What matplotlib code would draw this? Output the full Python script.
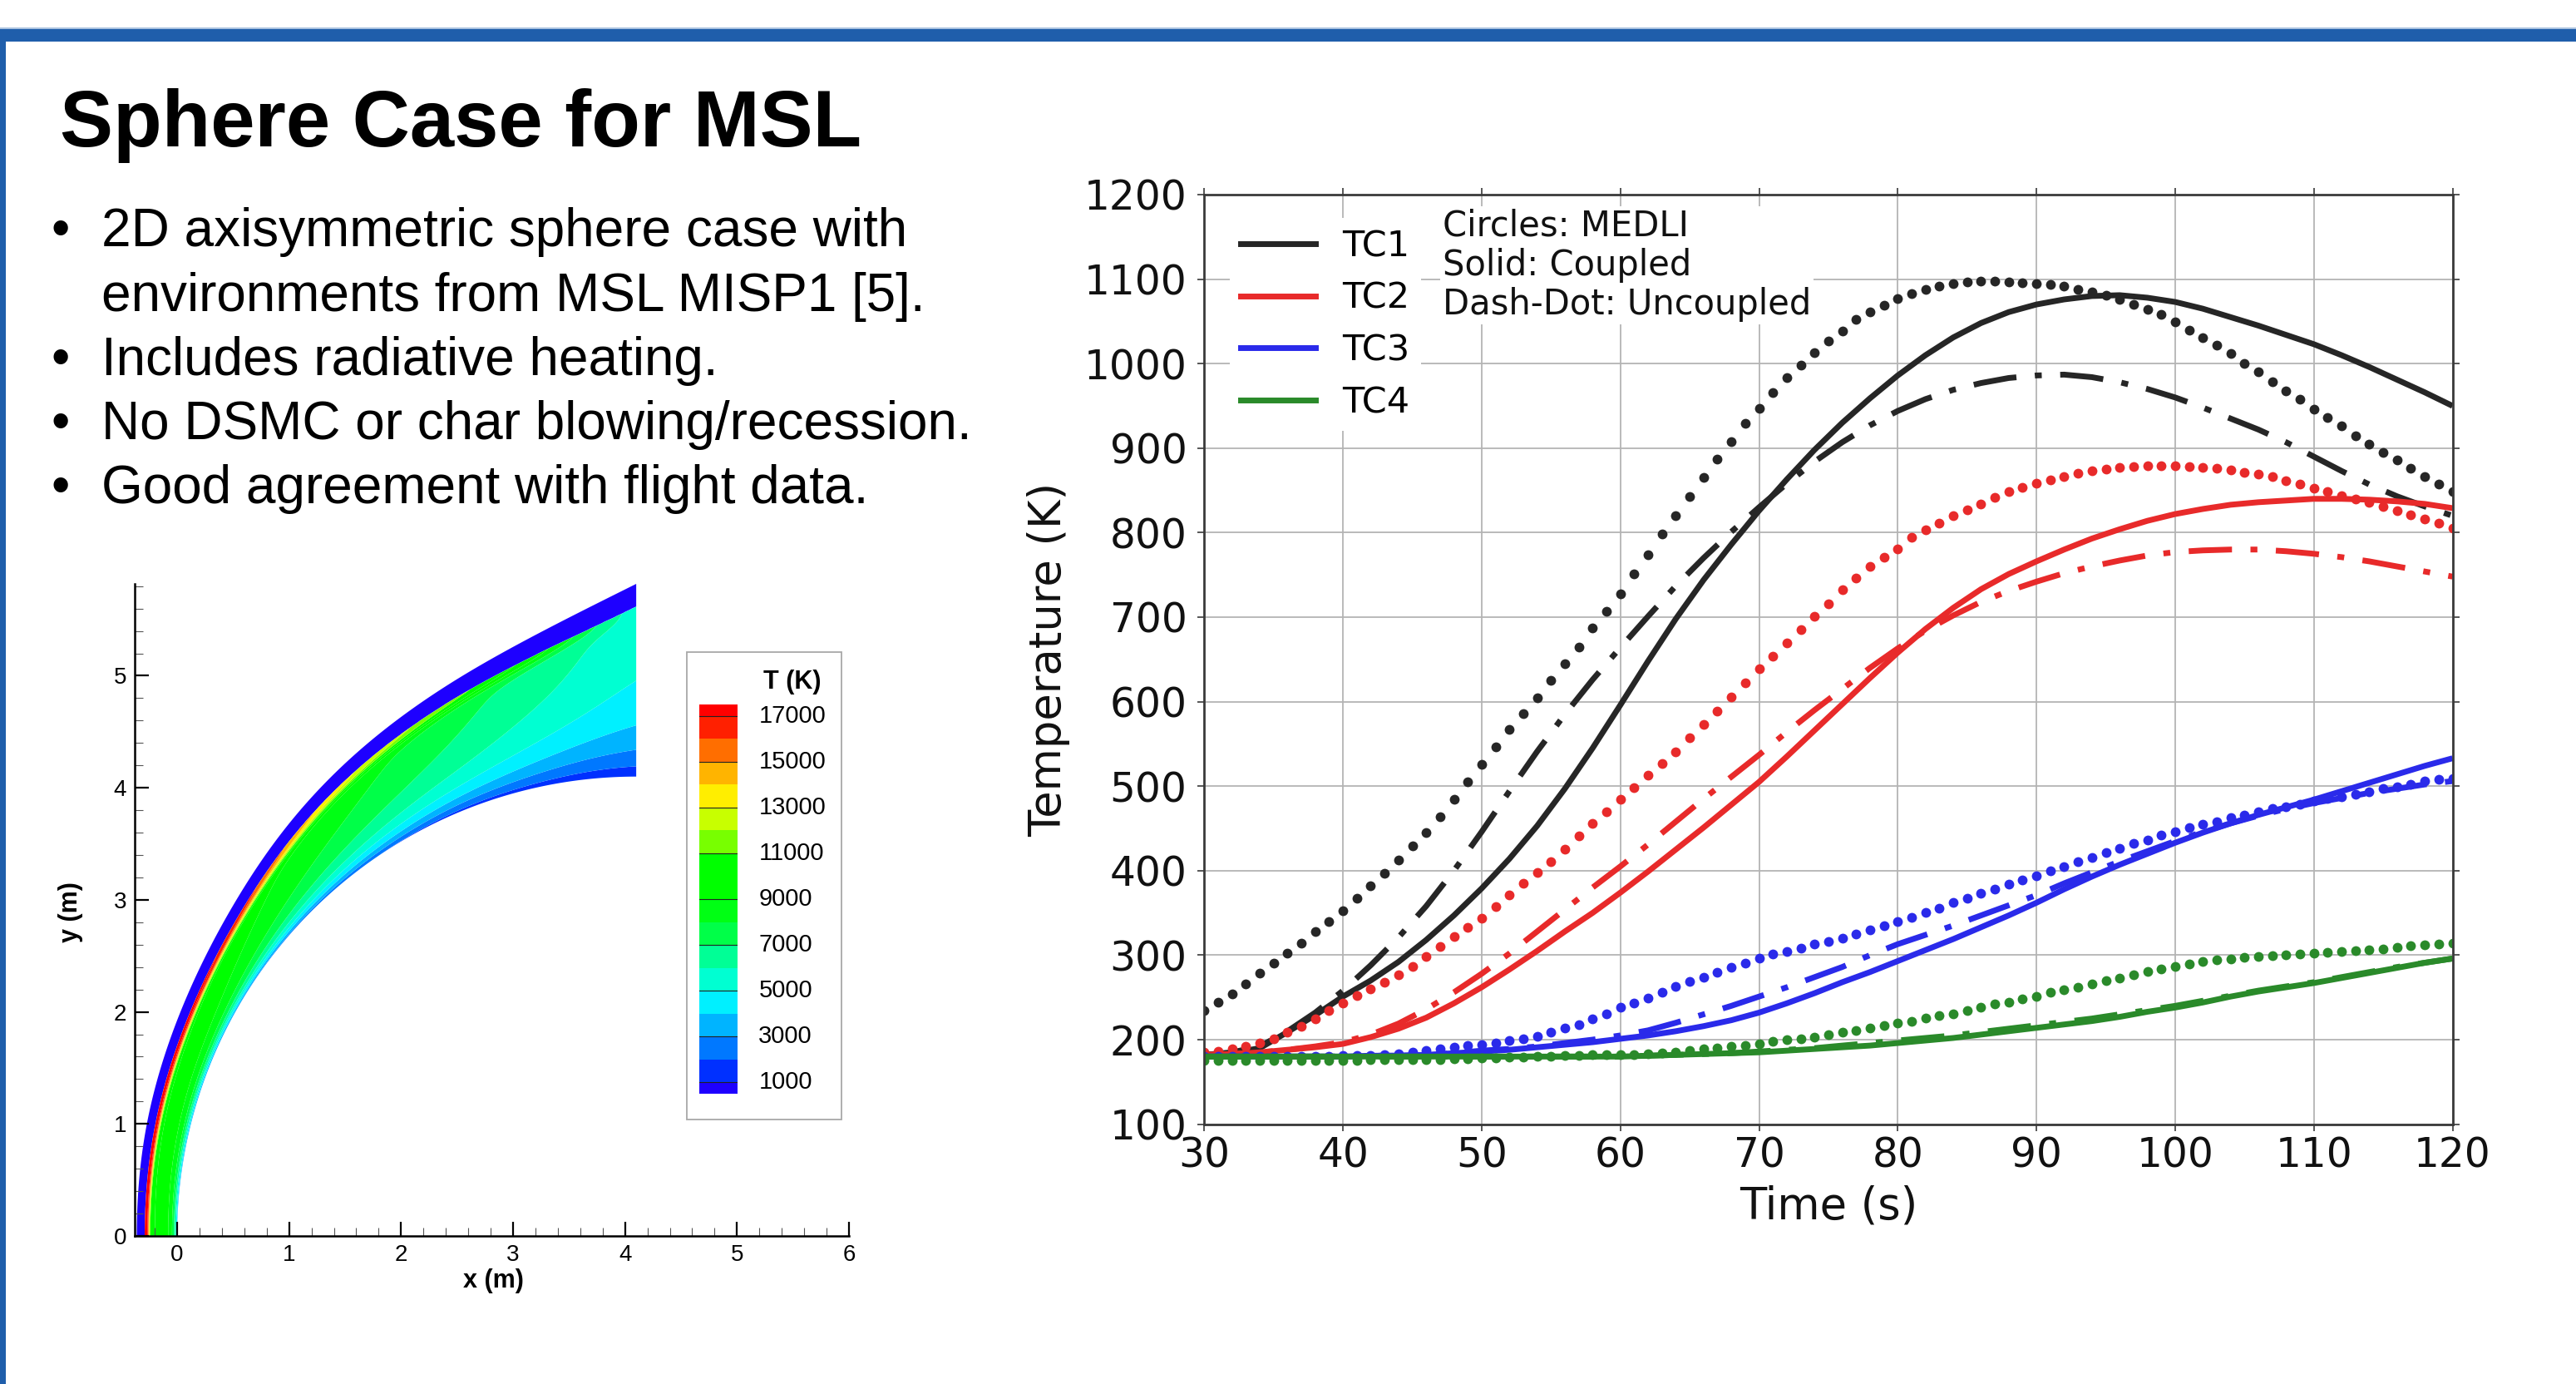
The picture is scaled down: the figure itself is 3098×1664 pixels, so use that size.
import numpy as np
import matplotlib
matplotlib.use('Agg')
import matplotlib.pyplot as plt
from matplotlib.patches import Rectangle
from matplotlib.lines import Line2D
from matplotlib.ticker import MultipleLocator

# ---------------- slide text ----------------
title = "Sphere Case for MSL"
bullet_lines = [
    ("•", "2D axisymmetric sphere case with"),
    ("", "environments from MSL MISP1 [5]."),
    ("•", "Includes radiative heating."),
    ("•", "No DSMC or char blowing/recession."),
    ("•", "Good agreement with flight data."),
]

# ---------------- right chart data ----------------
t_medli = np.arange(30, 121, 1)
tc1_medli = [234, 244, 254, 266, 279, 291, 302, 314, 328, 340,
             353, 367, 382, 397, 413, 429, 445, 464, 484, 505,
             526, 546, 567, 586, 605, 625, 645, 665, 687, 707,
             728, 751, 774, 798, 820, 843, 865, 887, 908, 929,
             947, 966, 983, 998, 1013, 1027, 1039, 1052, 1061, 1069,
             1077, 1083, 1088, 1092, 1095, 1097, 1098, 1098, 1097, 1096,
             1095, 1094, 1092, 1088, 1085, 1081, 1076, 1070, 1064, 1058,
             1049, 1040, 1031, 1022, 1012, 1000, 990, 979, 968, 958,
             946, 936, 926, 915, 905, 895, 886, 876, 866, 857,
             849]
tc2_medli = [185, 186, 189, 192, 196, 201, 209, 216, 225, 234,
             243, 252, 260, 268, 277, 287, 298, 310, 322, 333,
             344, 357, 371, 385, 398, 411, 425, 441, 456, 470,
             484, 498, 513, 527, 541, 557, 573, 589, 606, 622,
             639, 654, 669, 685, 701, 716, 732, 746, 760, 771,
             781, 794, 803, 811, 820, 827, 834, 842, 849, 854,
             858, 862, 866, 870, 873, 875, 877, 878, 879, 879,
             879, 878, 877, 876, 874, 871, 869, 866, 861, 857,
             853, 849, 844, 840, 836, 831, 826, 821, 816, 811,
             805]
tc3_medli = [180, 180, 180, 180, 180, 180, 180, 180, 180, 180,
             181, 181, 181, 182, 183, 185, 187, 189, 191, 193,
             194, 196, 199, 201, 204, 209, 214, 218, 225, 231,
             238, 243, 249, 256, 263, 269, 274, 280, 286, 291,
             296, 301, 304, 308, 313, 316, 320, 325, 330, 335,
             340, 345, 351, 356, 362, 367, 373, 378, 384, 389,
             394, 400, 405, 411, 416, 421, 426, 432, 436, 442,
             446, 451, 455, 458, 463, 466, 470, 474, 476, 479,
             482, 485, 487, 490, 493, 497, 499, 502, 506, 508,
             509]
tc4_medli = [175, 175, 175, 175, 175, 175, 175, 175, 175, 175,
             175, 175, 176, 176, 176, 176, 176, 176, 177, 177,
             178, 178, 179, 179, 180, 180, 181, 181, 182, 182,
             182, 182, 183, 184, 185, 187, 189, 190, 192, 193,
             195, 198, 200, 201, 203, 206, 209, 211, 214, 217,
             220, 222, 226, 229, 231, 234, 238, 242, 244, 248,
             251, 256, 259, 262, 266, 270, 273, 277, 281, 284,
             287, 290, 293, 294, 295, 297, 298, 299, 300, 301,
             302, 303, 304, 305, 306, 307, 309, 311, 312, 313,
             314]

t_sim = np.arange(30, 121, 2)
tc1_coupled = [182, 184, 190, 209, 229, 251, 270, 292, 318, 347,
               379, 414, 453, 497, 545, 596, 648, 698, 744, 786,
               826, 863, 898, 930, 959, 986, 1010, 1031, 1048, 1061,
               1070, 1076, 1080, 1081, 1078, 1073, 1065, 1055, 1045, 1034,
               1023, 1010, 996, 981, 966, 950]
tc1_uncoupled = [182, 185, 192, 210, 232, 258, 288, 321, 358, 400,
                 446, 494, 541, 585, 626, 664, 701, 737, 770, 801,
                 830, 858, 884, 907, 927, 944, 958, 969, 977, 983,
                 986, 987, 984, 978, 970, 960, 948, 935, 922, 907,
                 890, 873, 857, 843, 831, 820]
tc2_coupled = [182, 183, 185, 188, 191, 195, 203, 213, 226, 243,
               262, 283, 305, 328, 350, 374, 399, 425, 451, 478,
               505, 535, 566, 597, 628, 658, 686, 711, 733, 751,
               766, 780, 793, 804, 814, 822, 828, 833, 836, 838,
               840, 840, 839, 837, 834, 829]
tc2_uncoupled = [182, 183, 185, 188, 192, 197, 206, 219, 236, 256,
                 278, 302, 328, 354, 380, 405, 431, 458, 485, 511,
                 537, 564, 590, 615, 640, 663, 684, 702, 718, 731,
                 742, 752, 760, 767, 773, 777, 779, 780, 780, 778,
                 775, 771, 766, 760, 754, 748]
tc3_coupled = [180, 180, 180, 180, 180, 180, 181, 181, 182, 184,
               186, 188, 191, 194, 197, 201, 205, 210, 216, 223,
               232, 243, 255, 268, 280, 293, 306, 319, 333, 347,
               362, 378, 393, 407, 420, 433, 445, 456, 466, 475,
               484, 494, 504, 514, 524, 533]
tc3_uncoupled = [180, 180, 180, 180, 180, 180, 181, 181, 182, 184,
                 187, 189, 192, 196, 200, 205, 211, 220, 230, 240,
                 251, 262, 274, 286, 300, 313, 324, 335, 347, 359,
                 371, 385, 398, 411, 423, 435, 446, 456, 465, 473,
                 480, 486, 492, 497, 502, 506]
tc4_coupled = [180, 180, 180, 180, 180, 180, 180, 180, 180, 180,
               180, 180, 180, 180, 180, 180, 181, 182, 183, 184,
               185, 187, 189, 191, 193, 196, 199, 202, 206, 210,
               214, 218, 222, 227, 233, 238, 244, 251, 257, 262,
               267, 273, 279, 285, 291, 296]
tc4_uncoupled = [180, 180, 180, 180, 180, 180, 180, 180, 180, 180,
                 180, 180, 180, 180, 180, 180, 181, 182, 183, 184,
                 186, 188, 190, 193, 196, 199, 202, 205, 209, 213,
                 217, 221, 225, 230, 235, 240, 246, 252, 258, 263,
                 268, 274, 280, 286, 291, 296]
tc_labels = ["TC1", "TC2", "TC3", "TC4"]
tc_colors = ["#262626", "#e82a2a", "#2a2aea", "#2a8a2a"]
x_ticks = list(range(30, 121, 10))
y_ticks = list(range(100, 1201, 100))

# ---------------- contour (shock layer) description ----------------
body_radius = 4.1
outer_y_knots = [0.0, 1.0, 2.0, 3.0, 4.0, 5.0, 5.82]     # outer edge of flow domain
outer_x_knots = [-0.36, -0.27, 0.03, 0.53, 1.28, 2.55, 4.10]
theta_knots = [0, 27, 41, 56, 68, 76, 84, 90]             # deg from stagnation line
freestream_band = [0.07, 0.08, 0.09, 0.11, 0.13, 0.15, 0.18, 0.21]
T_peak = [17800, 17600, 16500, 13500, 12000, 11000, 9000, 4600]
peak_width = [0.13, 0.11, 0.09, 0.07, 0.06, 0.05, 0.04, 0.03]
T_post = [10500, 10300, 9600, 8800, 8000, 7200, 6500, 5600]
T_core = [9000, 8600, 7800, 7000, 6200, 5600, 5200, 5200]
T_wall = [3500, 3000, 2500, 2000, 1500, 1500, 1200, 1200]
bl_frac = [0.10, 0.12, 0.15, 0.18, 0.20, 0.22, 0.25, 0.28]
T_freestream = 400
level_edges = [0, 1000, 2000, 3000, 4000, 5000, 6000, 7000, 8000, 9000,
               10000, 11000, 12000, 13000, 14000, 15000, 16000, 17000, 1e6]
level_colors = ['#1e00ff', '#0030ff', '#0078ff', '#00b4ff', '#00f0ff', '#00ffd2',
                '#00ff96', '#00ff48', '#00ff14', '#00ff00', '#00ff00', '#78ff00',
                '#c8ff00', '#ffee00', '#ffb400', '#ff6e00', '#ff2000', '#ff0000']
cb_labels = [1000, 3000, 5000, 7000, 9000, 11000, 13000, 15000, 17000]

# ---------------- figure ----------------
W, H = 3098, 1664
fig = plt.figure(figsize=(W / 100, H / 100), dpi=100)
fig.patch.set_facecolor('white')


def fx(x):
    return x / W


def fy(y):
    return 1 - y / H


blue = '#1f5eab'
fig.patches.append(Rectangle((0, fy(50)), 1, 15 / H, transform=fig.transFigure,
                             facecolor=blue, edgecolor='none', zorder=0))
fig.patches.append(Rectangle((0, fy(35)), 1, 2 / H, transform=fig.transFigure,
                             facecolor='#a9c2df', edgecolor='none', zorder=0))
fig.patches.append(Rectangle((0, 0), 7 / W, fy(50), transform=fig.transFigure,
                             facecolor=blue, edgecolor='none', zorder=0))

SLIDE = ['Liberation Sans', 'DejaVu Sans']
fig.text(fx(72), fy(176), title, fontsize=69, fontweight='bold', family=SLIDE,
         va='baseline', ha='left')
baselines = [296, 374, 451, 528, 605]
for (b, txt), yb in zip(bullet_lines, baselines):
    if b:
        fig.text(fx(62), fy(yb), b, fontsize=46, family=SLIDE, va='baseline')
    fig.text(fx(122), fy(yb), txt, fontsize=46, family=SLIDE, va='baseline')


# ---------------- Tecplot style contour ----------------
def natural_spline(xk, yk, xq):
    xk = np.asarray(xk, float)
    yk = np.asarray(yk, float)
    n = len(xk)
    h = np.diff(xk)
    A = np.zeros((n, n))
    rhs = np.zeros(n)
    A[0, 0] = A[-1, -1] = 1
    for i in range(1, n - 1):
        A[i, i - 1] = h[i - 1]
        A[i, i] = 2 * (h[i - 1] + h[i])
        A[i, i + 1] = h[i]
        rhs[i] = 3 * ((yk[i + 1] - yk[i]) / h[i] - (yk[i] - yk[i - 1]) / h[i - 1])
    c = np.linalg.solve(A, rhs)
    b = (yk[1:] - yk[:-1]) / h - h * (2 * c[:-1] + c[1:]) / 3
    dd = (c[1:] - c[:-1]) / (3 * h)
    idx = np.clip(np.searchsorted(xk, xq) - 1, 0, n - 2)
    dx = xq - xk[idx]
    return yk[idx] + b[idx] * dx + c[idx] * dx ** 2 + dd[idx] * dx ** 3


# symmetric knots so the outer edge is smooth across the axis
ys = np.array([-v for v in outer_y_knots[:0:-1]] + outer_y_knots)
xs = np.array(outer_x_knots[:0:-1] + outer_x_knots)
yq = np.linspace(0, outer_y_knots[-1], 3000)
xq = natural_spline(ys, xs, yq)
th_o = np.degrees(np.arctan2(yq, body_radius - xq))
r_o = np.hypot(body_radius - xq, yq)

th_deg = np.linspace(0, 90, 451)
so = np.interp(th_deg, th_o, r_o) - body_radius
kern = np.exp(-0.5 * (np.arange(-40, 41) * 0.2 / 4.0) ** 2)
kern /= kern.sum()


def prof(knots):
    v = np.interp(th_deg, theta_knots, knots)
    return np.convolve(np.pad(v, 40, mode='edge'), kern, mode='valid')


band = prof(freestream_band)
tp, pw, ts, tc = prof(T_peak), prof(peak_width), prof(T_post), prof(T_core)
tw, bl = prof(T_wall), prof(bl_frac)
s = np.linspace(0, 1, 801)[:, None]
d = s * so[None, :]
dsh = (so - band)[None, :]
eta = np.clip(d / dsh, 0, 1)
core = tc + (ts - tc) * eta
peak = 1.0 / (1.0 + np.exp(((1 - eta) - pw) / 0.02))
Tin = tw + (core - tw) * (1 - np.exp(-eta / bl)) + (tp - ts) * peak
T = np.where(d <= dsh, Tin, T_freestream)
rad = np.deg2rad(th_deg)[None, :]
X = body_radius - (body_radius + d) * np.cos(rad)
Y = (body_radius + d) * np.sin(rad)

ax1 = fig.add_axes([fx(161.8), fy(1486), (1021 - 161.8) / W, (1486 - 702) / H])
ax1.contourf(X, Y, T, levels=level_edges, colors=level_colors, antialiased=True)
ax1.set_xlim(-0.38, 6.0)
ax1.set_ylim(0, 5.82)
for sp in ['top', 'right']:
    ax1.spines[sp].set_visible(False)
for sp in ['left', 'bottom']:
    ax1.spines[sp].set_linewidth(1.8)
    ax1.spines[sp].set_color('black')
    ax1.spines[sp].set_zorder(5)
ax1.set_xticks(range(0, 7))
ax1.set_yticks(range(0, 6))
ax1.xaxis.set_minor_locator(MultipleLocator(0.2))
ax1.yaxis.set_minor_locator(MultipleLocator(0.2))
ax1.tick_params(which='major', direction='in', length=12, width=1.6, labelsize=20, pad=7)
ax1.tick_params(which='minor', direction='in', length=7, width=0.8, color='#555555')
for lab in ax1.get_xticklabels() + ax1.get_yticklabels():
    lab.set_family(SLIDE)
fig.text(fx(593), fy(1540), "x (m)", fontsize=22, fontweight='bold', family=SLIDE,
         ha='center', va='center')
fig.text(fx(85), fy(1097), "y (m)", fontsize=22, fontweight='bold', family=SLIDE,
         ha='center', va='center', rotation=90)

# colour legend box
fig.patches.append(Rectangle((fx(826), fy(1346)), (1012 - 826) / W, (1346 - 784) / H,
                             transform=fig.transFigure, fill=False,
                             edgecolor='#a8a8a8', lw=1.3))
axc = fig.add_axes([fx(841), fy(1315), 46 / W, 468 / H])
bounds = [500] + level_edges[1:-1] + [17500]
for lo, hi, c in zip(bounds[:-1], bounds[1:], level_colors):
    axc.axhspan(lo, hi, color=c, lw=0)
for lv in cb_labels:
    axc.axhline(lv, color='#222222', lw=0.8)
    axc.text(1.55, lv, f"{lv}", transform=axc.get_yaxis_transform(), fontsize=21,
             family=SLIDE, va='center', ha='left')
axc.set_ylim(500, 17500)
axc.set_xlim(0, 1)
axc.axis('off')
fig.text(fx(953), fy(820), "T (K)", fontsize=22, fontweight='bold', family=SLIDE,
         ha='center', va='center')

# ---------------- right chart ----------------
MPL = ['DejaVu Sans']
ax2 = fig.add_axes([fx(1448.3), fy(1351.6), 1501.2 / W, 1117.6 / H])
lw = 5.0
dashdot = (7.5, 3.2, 1.2, 3.2)
sim_sets = [(tc1_coupled, tc1_uncoupled, tc1_medli),
            (tc2_coupled, tc2_uncoupled, tc2_medli),
            (tc3_coupled, tc3_uncoupled, tc3_medli),
            (tc4_coupled, tc4_uncoupled, tc4_medli)]
for (cp, uc, md), col in zip(sim_sets, tc_colors):
    ax2.plot(t_sim, cp, color=col, lw=lw, solid_capstyle='butt', solid_joinstyle='round')
    ax2.plot(t_sim, uc, color=col, lw=lw, dashes=dashdot, dash_capstyle='butt',
             dash_joinstyle='round')
    ax2.plot(t_medli, md, linestyle='none', marker='o', markersize=8.5,
             markerfacecolor=col, markeredgewidth=0)
ax2.set_xlim(30, 120)
ax2.set_ylim(100, 1200)
ax2.set_xticks(x_ticks)
ax2.set_yticks(y_ticks)
ax2.grid(True, color='#b4b4b4', lw=1.3)
ax2.set_axisbelow(True)
for sp in ax2.spines.values():
    sp.set_color('#3a3a3a')
    sp.set_linewidth(2.0)
ax2.tick_params(direction='out', length=6, width=1.2, color='#3a3a3a',
                top=True, right=True, labelsize=35, pad=4)
ax2.tick_params(axis='y', pad=9)
for lab in ax2.get_xticklabels() + ax2.get_yticklabels():
    lab.set_family(MPL)
    lab.set_color('#111111')
ax2.set_xlabel("Time (s)", fontsize=38, family=MPL, labelpad=8, color='#111111')
ax2.set_ylabel("Temperature (K)", fontsize=38, family=MPL, labelpad=12, color='#111111')
handles = [Line2D([0], [0], color=c, lw=lw) for c in tc_colors]
leg = ax2.legend(handles, tc_labels, loc='upper left', bbox_to_anchor=(0.006, 0.994),
                 prop={'family': MPL, 'size': 31}, handlelength=2.1,
                 handletextpad=0.75, labelspacing=0.48, frameon=True, framealpha=1,
                 facecolor='white', edgecolor='none', borderpad=0.3,
                 fancybox=False)
ax2.text(0.191, 0.985, "Circles: MEDLI\nSolid: Coupled\nDash-Dot: Uncoupled",
         transform=ax2.transAxes, va='top', ha='left', fontsize=30, family=MPL,
         linespacing=1.16, color='#111111',
         bbox=dict(facecolor='white', edgecolor='none', pad=2))

fig.savefig('out.png', dpi=100, facecolor='white')
